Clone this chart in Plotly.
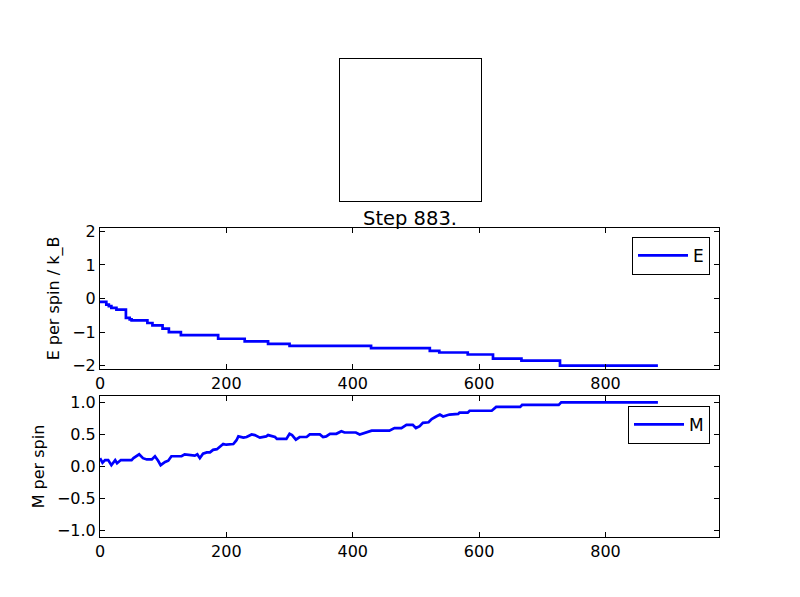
import plotly.graph_objects as go

# energy per spin (value holds until the next step)
e_step = [0, 10, 14, 18, 26, 41, 47, 50, 75, 83, 99, 109, 128, 187, 229,
          266, 300, 429, 522, 537, 582, 622, 667, 728, 883]
e_val = [-0.10, -0.18, -0.23, -0.28, -0.33, -0.58, -0.62, -0.65, -0.73, -0.80,
         -0.90, -1.00, -1.09, -1.20, -1.28, -1.35, -1.41, -1.48, -1.56, -1.61,
         -1.67, -1.79, -1.85, -2.00, -2.00]

# magnetisation per spin
m_step = [0, 4, 8, 13, 18, 24, 27, 33, 40, 50, 53, 62, 68, 74, 82, 87, 92, 96,
          103, 108, 113, 129, 134, 140, 150, 154, 158, 163, 169, 174, 179, 185,
          190, 195, 200, 211, 216, 219, 227, 232, 240, 245, 253, 263, 266, 277,
          280, 295, 300, 304, 310, 316, 327, 332, 348, 353, 358, 364, 374, 382,
          387, 405, 411, 422, 430, 458, 466, 477, 485, 495, 500, 506, 511, 520,
          525, 532, 538, 543, 553, 567, 569, 582, 585, 620, 627, 665, 668, 726,
          730, 883]
m_val = [0.13, 0.06, 0.10, 0.10, 0.02, 0.10, 0.05, 0.10, 0.10, 0.10, 0.13, 0.19,
         0.13, 0.11, 0.11, 0.16, 0.09, 0.02, 0.07, 0.09, 0.16, 0.16, 0.19, 0.18,
         0.17, 0.19, 0.13, 0.20, 0.22, 0.22, 0.26, 0.27, 0.31, 0.35, 0.34, 0.35,
         0.41, 0.47, 0.45, 0.46, 0.50, 0.49, 0.45, 0.47, 0.49, 0.46, 0.43, 0.43,
         0.51, 0.49, 0.42, 0.46, 0.46, 0.50, 0.50, 0.46, 0.47, 0.51, 0.51, 0.55,
         0.53, 0.53, 0.50, 0.54, 0.56, 0.56, 0.60, 0.60, 0.65, 0.65, 0.60, 0.63,
         0.68, 0.69, 0.74, 0.78, 0.81, 0.78, 0.81, 0.82, 0.84, 0.84, 0.87, 0.87,
         0.93, 0.93, 0.96, 0.96, 1.00, 1.00]

step_now = 883
x_ticks = [0, 200, 400, 600, 800]
e_ticks = [-2, -1, 0, 1, 2]
m_ticks = [-1.0, -0.5, 0.0, 0.5, 1.0]

font = dict(family="DejaVu Sans", size=16, color="black")

fig = go.Figure()
fig.add_trace(go.Scatter(x=e_step, y=e_val, mode="lines", name="E",
                         line=dict(color="#0000ff", width=2.7, shape="hv"),
                         xaxis="x", yaxis="y", legend="legend"))
fig.add_trace(go.Scatter(x=m_step, y=m_val, mode="lines", name="M",
                         line=dict(color="#0000ff", width=2.7),
                         xaxis="x2", yaxis="y2", legend="legend2"))
# lattice snapshot panel: spins are all aligned, so it shows as a blank square
fig.add_trace(go.Scatter(x=[], y=[], mode="markers", showlegend=False,
                         xaxis="x3", yaxis="y3"))

axis_style = dict(showline=True, linecolor="black", linewidth=1, mirror="ticks",
                  ticks="inside", ticklen=5, tickcolor="black", showgrid=False,
                  zeroline=False, tickfont=font, automargin=False)

legend_style = dict(bgcolor="white", bordercolor="black", borderwidth=1,
                    font=dict(family="DejaVu Sans", size=17, color="black"),
                    itemwidth=50, xanchor="right", yanchor="middle")

blank_axis = dict(range=[0, 1], showline=True, linecolor="black", linewidth=1,
                  mirror=True, showticklabels=False, ticks="", showgrid=False,
                  zeroline=False, automargin=False)

fig.update_layout(
    width=800, height=597,
    margin=dict(l=0, r=0, t=0, b=0),
    paper_bgcolor="white", plot_bgcolor="white",
    font=font,
    showlegend=True,
    xaxis=dict(domain=[0.125, 0.899], range=[0, 980], tickvals=x_ticks,
               anchor="y", **axis_style),
    yaxis=dict(domain=[0.382, 0.618], range=[-2.1, 2.1], tickvals=e_ticks,
               anchor="x", title=dict(text="E per spin / k_B", font=font, standoff=8),
               **axis_style),
    xaxis2=dict(domain=[0.125, 0.899], range=[0, 980], tickvals=x_ticks,
                anchor="y2", **axis_style),
    yaxis2=dict(domain=[0.1005, 0.3367], range=[-1.1, 1.1], tickvals=m_ticks,
                tickformat=".1f", anchor="x2",
                title=dict(text="M per spin", font=font, standoff=8), **axis_style),
    xaxis3=dict(domain=[0.425, 0.601], anchor="y3", **blank_axis),
    yaxis3=dict(domain=[0.6633, 0.9012], anchor="x3", **blank_axis),
    legend=dict(x=0.8875, y=0.5715, **legend_style),
    legend2=dict(x=0.8875, y=0.2884, **legend_style),
    annotations=[dict(text=f"Step {step_now}.", xref="paper", yref="paper",
                      x=0.513, y=0.6115, xanchor="center", yanchor="bottom",
                      showarrow=False,
                      font=dict(family="DejaVu Sans", size=19.5, color="black"))],
)

fig.write_html("out.html", config={"displayModeBar": False},
               post_script="document.body.style.margin='0';")
